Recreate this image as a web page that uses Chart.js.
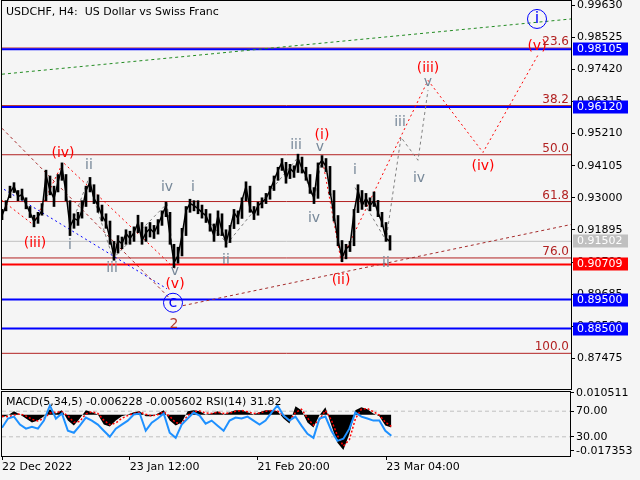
<!DOCTYPE html>
<html>
<head>
<meta charset="utf-8">
<script src="https://cdn.jsdelivr.net/npm/chart.js@4.4.0/dist/chart.umd.min.js"></script>
<style>
html, body { margin: 0; padding: 0; background: #f5f5f5; }
#wrap { position: relative; width: 640px; height: 480px; }
canvas { position: absolute; left: 0; top: 0; }
</style>
</head>
<body>
<div id="wrap">
  <canvas id="main" width="640" height="480"></canvas>
  <canvas id="sub" width="640" height="480"></canvas>
</div>
<script>
// H4 prices, one sample every 4 bars
var closeStep = 4;
var closes = [
  0.9239, 0.9273, 0.9318, 0.9339, 0.9304, 0.9311, 0.9277, 0.9249, 0.9218, 0.9235,
  0.9256, 0.9377, 0.9325, 0.9298, 0.9353, 0.9404, 0.9318, 0.9201, 0.9229, 0.9222,
  0.9256, 0.9325, 0.9353, 0.9298, 0.9273, 0.9239, 0.9215, 0.9160, 0.9098, 0.9153,
  0.9142, 0.9177, 0.9160, 0.9180, 0.9215, 0.9153, 0.9180, 0.9194, 0.9180, 0.9208,
  0.9239, 0.9273, 0.9170, 0.9077, 0.9101, 0.9170, 0.9256, 0.9280, 0.9273, 0.9263,
  0.9249, 0.9239, 0.9204, 0.9170, 0.9239, 0.9187, 0.9146, 0.9194, 0.9249, 0.9229,
  0.9291, 0.9339, 0.9263, 0.9242, 0.9273, 0.9284, 0.9298, 0.9325, 0.9360, 0.9394,
  0.9422, 0.9366, 0.9401, 0.9387, 0.9435, 0.9401, 0.9377, 0.9332, 0.9298, 0.9411,
  0.9429, 0.9408, 0.9325, 0.9239, 0.9153, 0.9094, 0.9125, 0.9135, 0.9249, 0.9325,
  0.9273, 0.9298, 0.9273, 0.9291, 0.9249, 0.9215, 0.9160, 0.9150
];
var highs = [
  0.9260, 0.9290, 0.9340, 0.9352, 0.9325, 0.9330, 0.9300, 0.9270, 0.9240, 0.9250,
  0.9280, 0.9395, 0.9375, 0.9340, 0.9380, 0.9420, 0.9380, 0.9290, 0.9245, 0.9250,
  0.9290, 0.9340, 0.9370, 0.9345, 0.9310, 0.9275, 0.9245, 0.9220, 0.9150, 0.9170,
  0.9165, 0.9190, 0.9185, 0.9200, 0.9240, 0.9215, 0.9200, 0.9215, 0.9205, 0.9225,
  0.9255, 0.9285, 0.9250, 0.9140, 0.9130, 0.9195, 0.9270, 0.9295, 0.9290, 0.9290,
  0.9275, 0.9260, 0.9245, 0.9210, 0.9255, 0.9245, 0.9190, 0.9205, 0.9260, 0.9255,
  0.9300, 0.9355, 0.9340, 0.9270, 0.9285, 0.9300, 0.9315, 0.9340, 0.9375, 0.9405,
  0.9435, 0.9422, 0.9415, 0.9410, 0.9450, 0.9440, 0.9405, 0.9380, 0.9335, 0.9420,
  0.9445, 0.9435, 0.9408, 0.9325, 0.9239, 0.9153, 0.9140, 0.9150, 0.9260, 0.9345,
  0.9325, 0.9315, 0.9300, 0.9320, 0.9291, 0.9250, 0.9215, 0.9170
];
var lows = [
  0.9225, 0.9255, 0.9300, 0.9318, 0.9290, 0.9292, 0.9262, 0.9232, 0.9200, 0.9212,
  0.9240, 0.9290, 0.9310, 0.9270, 0.9320, 0.9360, 0.9290, 0.9170, 0.9195, 0.9205,
  0.9230, 0.9270, 0.9320, 0.9280, 0.9250, 0.9220, 0.9195, 0.9140, 0.9085, 0.9110,
  0.9125, 0.9140, 0.9140, 0.9150, 0.9180, 0.9140, 0.9150, 0.9165, 0.9160, 0.9175,
  0.9205, 0.9235, 0.9140, 0.9060, 0.9075, 0.9100, 0.9170, 0.9250, 0.9255, 0.9245,
  0.9230, 0.9215, 0.9185, 0.9150, 0.9170, 0.9170, 0.9130, 0.9146, 0.9194, 0.9210,
  0.9229, 0.9290, 0.9250, 0.9225, 0.9240, 0.9265, 0.9280, 0.9295, 0.9325, 0.9360,
  0.9394, 0.9350, 0.9366, 0.9370, 0.9387, 0.9385, 0.9360, 0.9315, 0.9280, 0.9298,
  0.9405, 0.9390, 0.9310, 0.9220, 0.9135, 0.9080, 0.9090, 0.9115, 0.9135, 0.9249,
  0.9260, 0.9270, 0.9255, 0.9270, 0.9235, 0.9200, 0.9150, 0.9120
];

// indicator window, one value every 6 bars
var indStep = 6;
var macdMain = [
  -0.0013, -0.0003, 0.0016, 0.0001, -0.0018, -0.0037, -0.0028, -0.0008, 0.0026, 0.0006,
  0.0021, -0.0028, -0.0052, -0.0018, 0.0021, 0.0011, 0.0001, -0.0047, -0.0057, -0.0028,
  -0.0008, 0.0001, 0.0011, 0.0016, -0.0008, -0.0008, 0.0006, 0.0021, -0.0028, -0.0052,
  -0.0037, 0.0016, 0.0021, 0.0016, 0.0001, 0.0006, 0.0016, 0.0001, 0.0011, 0.0021,
  0.0021, 0.0011, 0.0001, 0.0011, 0.0021, 0.0021, 0.0016, -0.0018, -0.0042, 0.0040,
  0.0021, -0.0037, -0.0062, -0.0003, 0.0035, -0.0052, -0.0135, -0.0169, -0.0091, 0.0021,
  0.0035, 0.0026, 0.0006, -0.0008, -0.0052, -0.0062
];
var macdSignal = [
  -0.0008, -0.0010, -0.0002, 0.0004, -0.0006, -0.0022, -0.0030, -0.0018, 0.0008, 0.0012,
  0.0014, -0.0006, -0.0036, -0.0032, 0.0004, 0.0014, 0.0006, -0.0026, -0.0048, -0.0040,
  -0.0018, -0.0004, 0.0006, 0.0012, 0.0002, -0.0006, 0.0000, 0.0014, -0.0008, -0.0038,
  -0.0042, -0.0004, 0.0014, 0.0018, 0.0008, 0.0006, 0.0012, 0.0006, 0.0008, 0.0016,
  0.0020, 0.0014, 0.0006, 0.0008, 0.0016, 0.0020, 0.0018, -0.0004, -0.0030, 0.0010,
  0.0026, -0.0016, -0.0050, -0.0024, 0.0020, -0.0026, -0.0100, -0.0150, -0.0120, -0.0020,
  0.0026, 0.0030, 0.0014, -0.0002, -0.0036, -0.0056
];
var rsiValues = [
  44.2, 58.5, 61.6, 49.0, 42.7, 45.8, 42.7, 55.3, 79.0, 58.5,
  66.4, 39.5, 36.3, 47.4, 60.0, 55.3, 49.0, 39.5, 30.0, 42.7,
  49.0, 55.3, 64.8, 66.4, 39.5, 52.1, 58.5, 66.4, 36.3, 28.4,
  49.0, 58.5, 67.9, 63.2, 50.6, 55.3, 47.4, 39.5, 55.3, 60.0,
  58.5, 61.6, 55.3, 49.0, 55.3, 67.9, 79.0, 63.2, 55.3, 61.6,
  47.4, 34.8, 28.4, 58.5, 61.6, 39.5, 23.7, 26.9, 42.7, 67.9,
  61.6, 58.5, 55.3, 55.3, 39.5, 31.8
];
var rsiLevels = [70, 30];

var priceTicks = [0.87475, 0.88580, 0.89685, 0.90790, 0.91895, 0.93000, 0.94105, 0.95210, 0.96315, 0.97420, 0.98525, 0.99630];
var subTickPos = [98.9, 70, 30, 7.9];
var subTickLabels = ['0.010511', '70.00', '30.00', '-0.017353'];
var dateTicks = [0, 128, 256, 385];
var dateLabels = ['22 Dec 2022', '23 Jan 12:00', '21 Feb 20:00', '23 Mar 04:00'];

var fiboNames = ['23.6', '38.2', '50.0', '61.8', '76.0', '100.0'];
var fiboPrices = [0.9815, 0.9617, 0.9448, 0.9287, 0.9093, 0.8765];
var blueLevels = [0.98105, 0.96120, 0.89500, 0.88500];
var redLevels = [0.90709];
var lastPrice = 0.91502;

// wave lines, [bar, price]
var greenTrend = [[0, 0.9725], [569, 0.9915]];
var cTrend = [[181, 0.8929], [569, 0.9208]];
var bigDown = [[0, 0.9539], [170, 0.8946]];
var blueDown = [[2, 0.9329], [165, 0.8987]];
var redLeft = [[0, 0.9291], [31, 0.9208], [61, 0.9422], [173, 0.9056]];
var grayLeft = [[68, 0.9194], [86, 0.9360], [111, 0.9091], [165, 0.9280], [173, 0.9056]];
var grayMid = [[191, 0.9291], [225, 0.9142], [296, 0.9439], [312, 0.9291], [320, 0.9439]];
var redRight = [[320, 0.9439], [339, 0.9084], [426, 0.9704], [481, 0.9456], [536, 0.9791]];
var grayRight = [[353, 0.9335], [384, 0.9153], [399, 0.9508], [416, 0.9429], [426, 0.9670]];

// wave labels, [text, bar, price]
var redLabels = [['(iii)', 33, 0.9142], ['(iv)', 61, 0.9453], ['(v)', 173, 0.9001], ['(i)', 320, 0.9515],
  ['(ii)', 339, 0.9015], ['(iii)', 426, 0.9746], ['(iv)', 481, 0.9408], ['(v)', 535, 0.9822]];
var grayLabels = [['i', 68, 0.9135], ['ii', 87, 0.9411], ['iii', 110, 0.9056], ['iv', 165, 0.9335],
  ['v', 173, 0.9046], ['i', 191, 0.9335], ['ii', 224, 0.9084], ['iii', 294, 0.9480], ['v', 318, 0.9473],
  ['iv', 312, 0.9229], ['i', 353, 0.9394], ['ii', 384, 0.9073], ['iii', 398, 0.9560], ['iv', 417, 0.9367],
  ['v', 426, 0.9698]];
var circleLabels = [['c', 171, 0.8939], ['i', 535, 0.9915]];
var degreeLabels = [['2', 172, 0.8863]];

var FONT = '"DejaVu Sans", sans-serif';

function pts(arr) {
  return arr.map(function (p) { return { x: p[0], y: p[1] }; });
}
function flat(v) {
  return [{ x: 0, y: v }, { x: 569, y: v }];
}
function lineSet(data, color, width, dash, order) {
  return { data: data, borderColor: color, borderWidth: width, borderDash: dash || [], pointRadius: 0, fill: false, tension: 0, order: order };
}

var mainSets = [];
mainSets.push(lineSet(closes.map(function (v, i) { return { x: i * closeStep, y: v }; }), '#000000', 1.5, null, 0));
mainSets.push({
  type: 'bar',
  data: highs.map(function (h, i) { return { x: i * closeStep, y: [lows[i], h] }; }),
  backgroundColor: '#000000', borderWidth: 0, barThickness: 2, order: 1
});
fiboPrices.forEach(function (p) { mainSets.push(lineSet(flat(p), '#b22222', 1, null, 5)); });
blueLevels.forEach(function (p) { mainSets.push(lineSet(flat(p), '#0000ff', 2, null, 4)); });
redLevels.forEach(function (p) { mainSets.push(lineSet(flat(p), '#ff0000', 2, null, 4)); });
mainSets.push(lineSet(flat(lastPrice), '#c0c0c0', 1, null, 6));
mainSets.push(lineSet(pts(greenTrend), '#228b22', 1, [3, 3], 3));
mainSets.push(lineSet(pts(cTrend), '#a52a2a', 1, [3, 3], 3));
mainSets.push(lineSet(pts(bigDown), '#a52a2a', 1, [3, 3], 3));
mainSets.push(lineSet(pts(blueDown), '#0000ff', 1, [2, 3], 3));
mainSets.push(lineSet(pts(redLeft), '#ff0000', 1, [2, 3], 3));
mainSets.push(lineSet(pts(redRight), '#ff0000', 1, [2, 3], 3));
mainSets.push(lineSet(pts(grayLeft), '#808080', 1, [3, 3], 3));
mainSets.push(lineSet(pts(grayMid), '#808080', 1, [3, 3], 3));
mainSets.push(lineSet(pts(grayRight), '#808080', 1, [3, 3], 3));

var mainOverlay = {
  id: 'mainOverlay',
  afterDatasetsDraw: function (chart) {
    var ctx = chart.ctx, xs = chart.scales.x, ys = chart.scales.y, a = chart.chartArea;
    ctx.save();
    ctx.textAlign = 'center';
    ctx.textBaseline = 'middle';
    ctx.font = '14px ' + FONT;
    ctx.fillStyle = '#778899';
    grayLabels.forEach(function (l) { ctx.fillText(l[0], xs.getPixelForValue(l[1]), ys.getPixelForValue(l[2])); });
    ctx.fillStyle = '#ff0000';
    redLabels.forEach(function (l) { ctx.fillText(l[0], xs.getPixelForValue(l[1]), ys.getPixelForValue(l[2])); });
    ctx.fillStyle = '#b8392b';
    degreeLabels.forEach(function (l) { ctx.fillText(l[0], xs.getPixelForValue(l[1]), ys.getPixelForValue(l[2])); });
    ctx.font = '16px ' + FONT;
    ctx.strokeStyle = '#0000ff';
    ctx.fillStyle = '#0000ff';
    ctx.lineWidth = 1;
    circleLabels.forEach(function (l) {
      var px = xs.getPixelForValue(l[1]), py = ys.getPixelForValue(l[2]);
      ctx.beginPath();
      ctx.arc(px, py, 9.5, 0, Math.PI * 2);
      ctx.stroke();
      ctx.fillText(l[0], px, py);
    });
    // fibo level names
    ctx.font = '12px ' + FONT;
    ctx.fillStyle = '#b22222';
    ctx.textAlign = 'right';
    ctx.textBaseline = 'bottom';
    fiboPrices.forEach(function (p, i) { ctx.fillText(fiboNames[i], a.right - 2, ys.getPixelForValue(p)); });
    // title
    ctx.font = '11px ' + FONT;
    ctx.fillStyle = '#000000';
    ctx.textAlign = 'left';
    ctx.textBaseline = 'middle';
    ctx.fillText('USDCHF, H4:  US Dollar vs Swiss Franc', 6, 12);
    ctx.restore();
  },
  afterDraw: function (chart) {
    var ctx = chart.ctx, ys = chart.scales.y, a = chart.chartArea;
    ctx.save();
    ctx.strokeStyle = '#000000';
    ctx.lineWidth = 1;
    ctx.strokeRect(a.left - 0.5, a.top - 0.5, a.right - a.left + 1, a.bottom - a.top + 1);
    ctx.font = '11px ' + FONT;
    ctx.textAlign = 'left';
    ctx.textBaseline = 'middle';
    function box(p, bg) {
      var py = Math.round(ys.getPixelForValue(p));
      ctx.fillStyle = bg;
      ctx.fillRect(a.right + 2, py - 6.5, 55, 13);
      ctx.fillStyle = '#ffffff';
      ctx.fillText(p.toFixed(5), a.right + 6, py + 0.5);
    }
    box(lastPrice, '#c0c0c0');
    redLevels.forEach(function (p) { box(p, '#ff0000'); });
    blueLevels.forEach(function (p) { box(p, '#0000ff'); });
    ctx.restore();
  }
};

new Chart(document.getElementById('main'), {
  type: 'line',
  data: { datasets: mainSets },
  options: {
    responsive: false,
    animation: false,
    events: [],
    layout: { padding: { left: 2, top: 1, right: 0, bottom: 91 } },
    plugins: { legend: { display: false }, tooltip: { enabled: false } },
    scales: {
      x: { type: 'linear', min: 0, max: 569, offset: false, display: false },
      y: {
        type: 'linear', position: 'right', min: 0.86423, max: 0.99768,
        afterBuildTicks: function (s) { s.ticks = priceTicks.map(function (v) { return { value: v }; }); },
        afterFit: function (s) { s.width = 69; s.paddingTop = 0; s.paddingBottom = 0; },
        ticks: { color: '#000000', font: { family: FONT, size: 11 }, padding: 2, callback: function (v) { return v.toFixed(5); } },
        grid: { drawOnChartArea: false, tickLength: 4, color: '#000000' },
        border: { display: true, color: '#000000' }
      }
    }
  },
  plugins: [mainOverlay]
});

var subOverlay = {
  id: 'subOverlay',
  afterDraw: function (chart) {
    var ctx = chart.ctx, a = chart.chartArea;
    ctx.save();
    ctx.strokeStyle = '#000000';
    ctx.lineWidth = 1;
    ctx.strokeRect(a.left - 0.5, a.top - 0.5, a.right - a.left + 1, a.bottom - a.top + 1);
    ctx.font = '11px ' + FONT;
    ctx.fillStyle = '#000000';
    ctx.textAlign = 'left';
    ctx.textBaseline = 'middle';
    ctx.fillText('MACD(5,34,5) -0.006228 -0.005602 RSI(14) 31.82', 6, 402);
    ctx.restore();
  }
};

var subSets = [
  { data: macdMain.map(function (v, i) { return { x: i * indStep, y: v }; }), yAxisID: 'yMacd', borderWidth: 0, borderColor: '#000000', backgroundColor: '#000000', fill: 'origin', pointRadius: 0, tension: 0, order: 3 },
  { data: macdSignal.map(function (v, i) { return { x: i * indStep, y: v }; }), yAxisID: 'yMacd', borderColor: '#ff0000', borderWidth: 1.5, borderDash: [2, 2], fill: false, pointRadius: 0, tension: 0, order: 2 },
  { data: rsiValues.map(function (v, i) { return { x: i * indStep, y: v }; }), yAxisID: 'yRsi', borderColor: '#1e90ff', borderWidth: 2, fill: false, pointRadius: 0, tension: 0, order: 1 }
];
rsiLevels.forEach(function (v) {
  subSets.push({ data: flat(v), yAxisID: 'yRsi', borderColor: '#c0c0c0', borderWidth: 1, borderDash: [4, 3], fill: false, pointRadius: 0, order: 4 });
});

new Chart(document.getElementById('sub'), {
  type: 'line',
  data: { datasets: subSets },
  options: {
    responsive: false,
    animation: false,
    events: [],
    layout: { padding: { left: 2, top: 392, right: 0, bottom: 0 } },
    plugins: { legend: { display: false }, tooltip: { enabled: false } },
    scales: {
      x: {
        type: 'linear', min: 0, max: 569, position: 'bottom',
        afterBuildTicks: function (s) { s.ticks = dateTicks.map(function (v) { return { value: v }; }); },
        afterFit: function (s) { s.height = 24; s.paddingLeft = 0; s.paddingRight = 0; },
        ticks: { align: 'start', maxRotation: 0, autoSkip: false, color: '#000000', font: { family: FONT, size: 11 }, padding: 1,
          callback: function (v, i) { return dateLabels[i]; } },
        grid: { drawOnChartArea: false, tickLength: 4, color: '#000000' },
        border: { display: false }
      },
      yMacd: { type: 'linear', display: false, min: -0.019785, max: 0.010851 },
      yRsi: {
        type: 'linear', position: 'right', min: 0, max: 100,
        afterBuildTicks: function (s) { s.ticks = subTickPos.map(function (v) { return { value: v }; }); },
        afterFit: function (s) { s.width = 70; s.paddingTop = 0; s.paddingBottom = 0; },
        ticks: { color: '#000000', font: { family: FONT, size: 11 }, padding: 2, callback: function (v, i) { return subTickLabels[i]; } },
        grid: { drawOnChartArea: false, tickLength: 4, color: '#000000' },
        border: { display: true, color: '#000000' }
      }
    }
  },
  plugins: [subOverlay]
});
</script>
</body>
</html>
